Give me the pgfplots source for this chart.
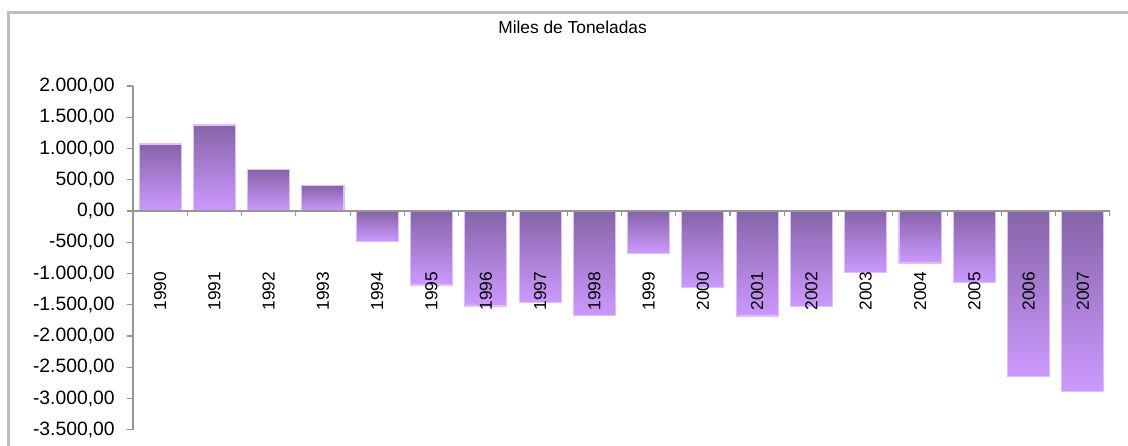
\documentclass[border=0pt]{standalone}
\usepackage{pgfplots}
\pgfplotsset{compat=1.18}
\usepackage{fontspec}
\setmainfont{Liberation Sans}
\definecolor{barDark}{RGB}{134,100,168}
\definecolor{barLight}{RGB}{204,153,255}
\definecolor{barEdge}{RGB}{222,190,255}
\definecolor{axGray}{RGB}{150,150,150}
\definecolor{frameGray}{RGB}{190,190,190}
\pgfplotsset{mybar/.style={ybar, bar shift=0pt, bar width=0.775, draw=barEdge, line width=0.8pt, top color=barDark, bottom color=barLight, forget plot}}
\begin{document}
\begin{tikzpicture}
\useasboundingbox (0,0) rectangle (846pt,334.5pt);
\fill[white] (0,0) rectangle (846pt,334.5pt);
\draw[frameGray, line width=2.25pt] (6.4pt,0) -- (6.4pt,324.75pt) -- (846pt,324.75pt);
\node[font=\fontsize{13}{15}\selectfont, inner sep=0pt] at (429.4pt,314.25pt) {Miles de Toneladas};
\begin{axis}[
  at={(99.75pt,12.19pt)}, anchor=south west,
  scale only axis, width=732.75pt, height=257.81pt,
  xmin=-0.5, xmax=17.5, ymin=-3500, ymax=2000,
  axis x line=middle, axis y line=left,
  axis line style={-, axGray, line width=0.9pt},
  axis on top,
  hide obscured x ticks=false,
  xtick={0,...,17},
  xticklabels={1990,1991,1992,1993,1994,1995,1996,1997,1998,1999,2000,2001,2002,2003,2004,2005,2006,2007},
  xticklabel style={rotate=90, anchor=east, inner sep=0pt, font=\fontsize{13}{14}\selectfont},
  xticklabel shift=41pt,
  xtick style={draw=none},
  ytick={-3500,-3000,...,2000},
  yticklabel style={anchor=east, inner sep=0pt, font=\fontsize{14.5}{16}\selectfont},
  yticklabel shift=9pt,
  /pgf/number format/.cd, fixed, fixed zerofill, precision=2, use comma, 1000 sep={.}, assume math mode=true,
  /pgfplots/.cd,
  ytick style={axGray, line width=0.9pt},
  tick align=outside,
  major tick length=4.5pt,
]
\addplot[mybar] coordinates {(0,1072)};
\addplot[mybar] coordinates {(1,1376)};
\addplot[mybar] coordinates {(2,667)};
\addplot[mybar] coordinates {(3,405)};
\addplot[mybar] coordinates {(4,-491)};
\addplot[mybar] coordinates {(5,-1184)};
\addplot[mybar] coordinates {(6,-1520)};
\addplot[mybar] coordinates {(7,-1467)};
\addplot[mybar] coordinates {(8,-1675)};
\addplot[mybar] coordinates {(9,-677)};
\addplot[mybar] coordinates {(10,-1221)};
\addplot[mybar] coordinates {(11,-1680)};
\addplot[mybar] coordinates {(12,-1525)};
\addplot[mybar] coordinates {(13,-987)};
\addplot[mybar] coordinates {(14,-832)};
\addplot[mybar] coordinates {(15,-1141)};
\addplot[mybar] coordinates {(16,-2651)};
\addplot[mybar] coordinates {(17,-2885)};
\pgfplotsinvokeforeach{-0.5,0.5,...,17.5}{
  \draw[axGray, line width=0.9pt] (axis cs:#1,0) -- ([yshift=-3.5pt]axis cs:#1,0);
}
\end{axis}
\end{tikzpicture}
\end{document}
